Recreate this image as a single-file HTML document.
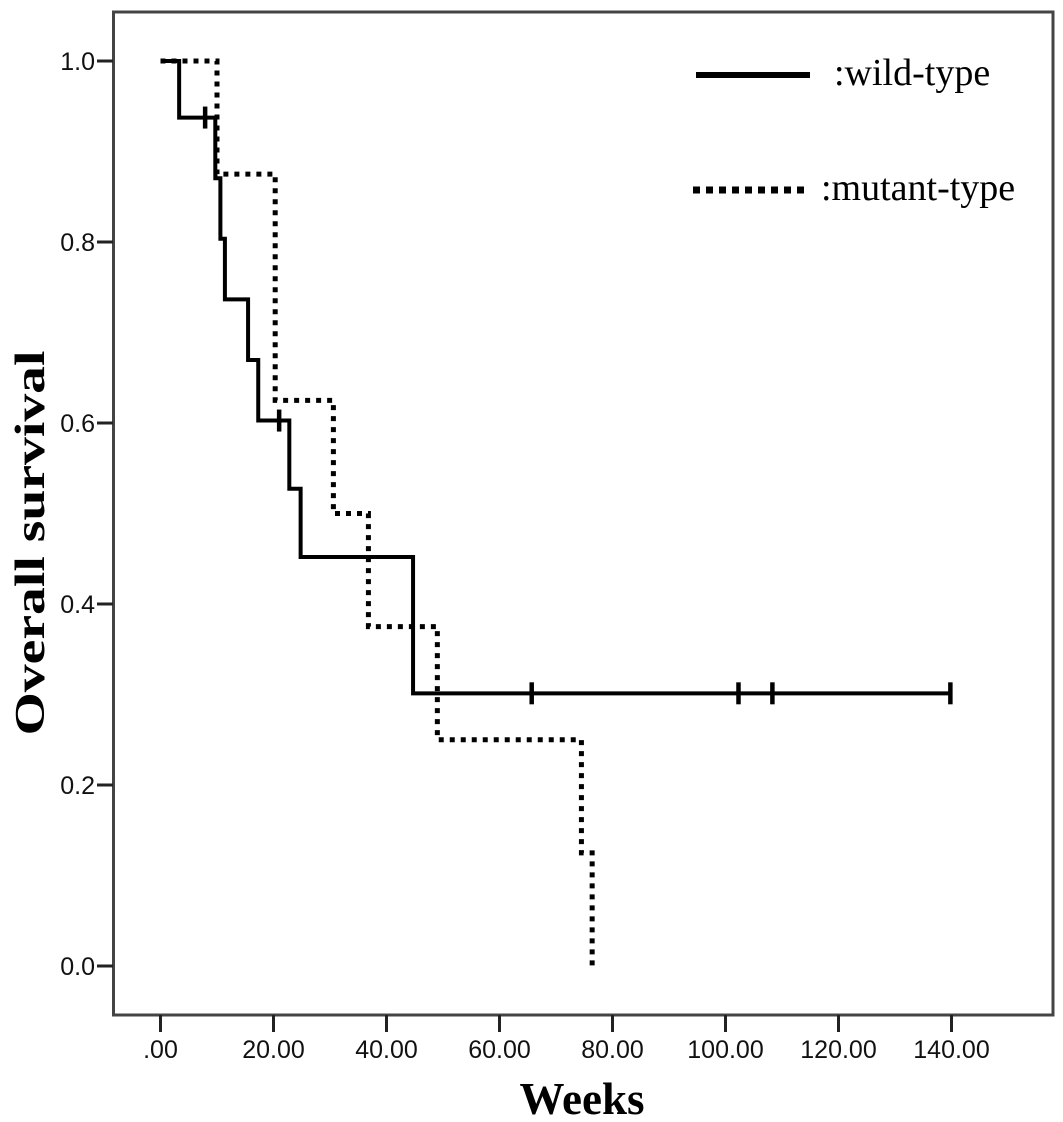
<!DOCTYPE html>
<html><head><meta charset="utf-8"><style>
html,body{margin:0;padding:0;background:#fff;}
svg{display:block;}
</style></head><body>
<svg id="chart" width="1063" height="1122" viewBox="0 0 1063 1122" xmlns="http://www.w3.org/2000/svg">
<rect x="0" y="0" width="1063" height="1122" fill="#fff"/>
<rect x="113.5" y="12" width="939.5" height="1003" fill="none" stroke="#444" stroke-width="3"/>
<g id="xaxis"></g>
<g id="yaxis"></g>
<g id="series"></g>
<text x="582" y="1114" text-anchor="middle" font-family="Liberation Serif, serif" font-weight="bold" font-size="45">Weeks</text>
<text transform="translate(44,543) rotate(-90)" text-anchor="middle" font-family="Liberation Serif, serif" font-weight="bold" font-size="42" textLength="385" lengthAdjust="spacingAndGlyphs">Overall survival</text>
<g>
<line x1="696" y1="75" x2="810" y2="75" stroke="#000" stroke-width="6"/>
<text x="834" y="85" font-family="Liberation Serif, serif" font-size="38">:wild-type</text>
<line x1="693" y1="190" x2="808" y2="190" stroke="#000" stroke-width="7" stroke-dasharray="7,6"/>
<text x="821" y="200" font-family="Liberation Serif, serif" font-size="38">:mutant-type</text>
</g>
</svg>
<script>
const xTicks = [0, 20, 40, 60, 80, 100, 120, 140];
const xTickLabels = [".00", "20.00", "40.00", "60.00", "80.00", "100.00", "120.00", "140.00"];
const yTicks = [0, 0.2, 0.4, 0.6, 0.8, 1.0];
const yTickLabels = ["0.0", "0.2", "0.4", "0.6", "0.8", "1.0"];
const wildTimes = [0, 3.3, 9.7, 10.6, 11.4, 15.5, 17.3, 22.8, 24.8, 44.7];
const wildSurv = [1.0, 0.9375, 0.8705, 0.8036, 0.7366, 0.6696, 0.6027, 0.5273, 0.452, 0.3013];
const wildEnd = 139.8;
const wildCensorTimes = [7.9, 21.0, 65.7, 102.3, 108.3, 139.8];
const wildCensorSurv = [0.9375, 0.6027, 0.3013, 0.3013, 0.3013, 0.3013];
const mutTimes = [0, 10.0, 20.3, 30.6, 36.8, 49.0, 74.5, 76.4];
const mutSurv = [1.0, 0.875, 0.625, 0.5, 0.375, 0.25, 0.125, 0.0];

const NS = "http://www.w3.org/2000/svg";
const X = t => 160.5 + t * 5.65;
const Y = s => 966 - s * 905;
function mk(tag, attrs, parent) {
  const e = document.createElementNS(NS, tag);
  for (const k in attrs) e.setAttribute(k, attrs[k]);
  parent.appendChild(e);
  return e;
}
const xg = document.getElementById('xaxis');
xTicks.forEach((v, i) => {
  const tk = mk('line', {x1: X(v), y1: 1015, x2: X(v), y2: 1032, stroke: '#222', 'stroke-width': 3}, xg);
  
  
  const tx = mk('text', {x: X(v), y: 1058, 'text-anchor': 'middle', 'font-family': 'Liberation Sans, sans-serif', 'font-size': 25, fill: '#111'}, xg);
  tx.textContent = xTickLabels[i];
  
  
});
const yg = document.getElementById('yaxis');
yTicks.forEach((v, i) => {
  const tk = mk('line', {x1: 97, y1: Y(v), x2: 113, y2: Y(v), stroke: '#222', 'stroke-width': 3}, yg);
  
  
  const tx = mk('text', {x: 95, y: Y(v) + 9, 'text-anchor': 'end', 'font-family': 'Liberation Sans, sans-serif', 'font-size': 25, fill: '#111'}, yg);
  tx.textContent = yTickLabels[i];
  
  
});
function stepPath(times, surv, end) {
  let d = 'M' + X(times[0]) + ',' + Y(surv[0]);
  for (let i = 1; i < times.length; i++) {
    d += ' H' + X(times[i]) + ' V' + Y(surv[i]);
  }
  if (end !== undefined) d += ' H' + X(end);
  return d;
}
const sg = document.getElementById('series');
const mp = mk('path', {d: stepPath(mutTimes, mutSurv), fill: 'none', stroke: '#000', 'stroke-width': 5, 'stroke-dasharray': '5,6'}, sg);


const wp = mk('path', {d: stepPath(wildTimes, wildSurv, wildEnd), fill: 'none', stroke: '#000', 'stroke-width': 4}, sg);


wildCensorTimes.forEach((t, i) => {
  const c = mk('line', {x1: X(t), y1: Y(wildCensorSurv[i]) - 11, x2: X(t), y2: Y(wildCensorSurv[i]) + 11, stroke: '#000', 'stroke-width': 4.5}, sg);
  
  
});
</script>
</body></html>
